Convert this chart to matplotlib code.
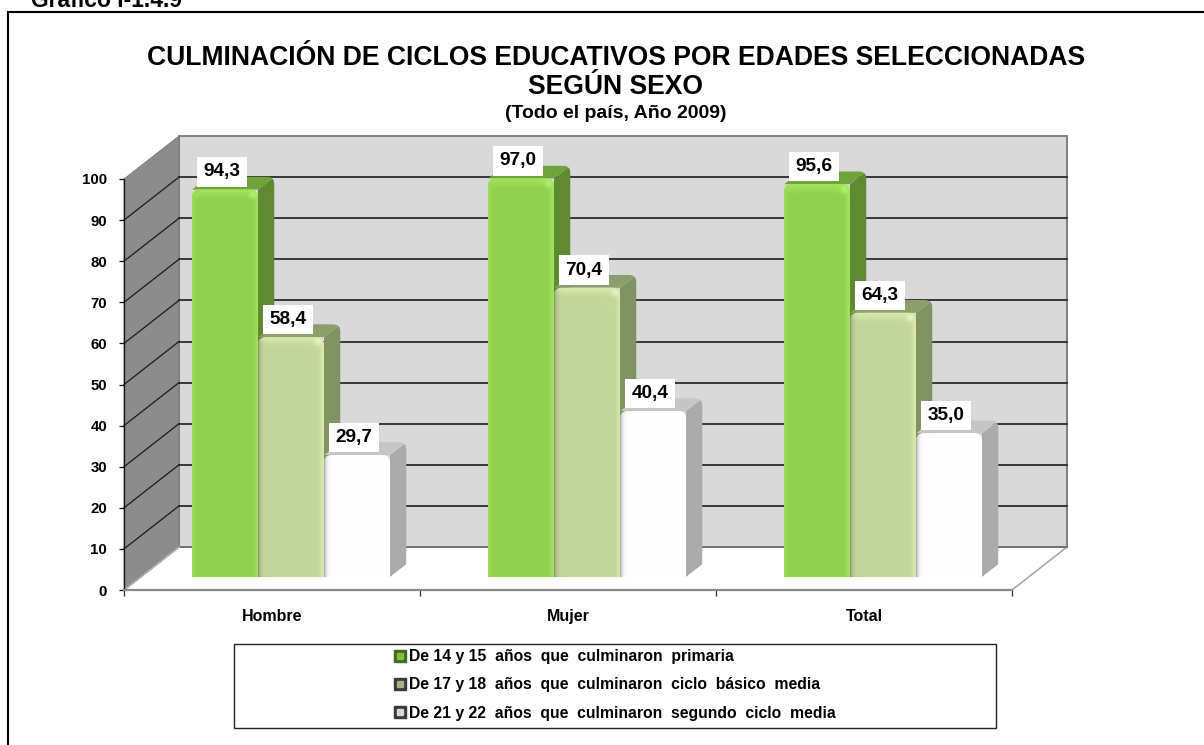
import numpy as np
import matplotlib
matplotlib.use("Agg")
import matplotlib.pyplot as plt
from matplotlib.path import Path
from matplotlib.patches import PathPatch, Polygon, Rectangle
from matplotlib.lines import Line2D
from matplotlib.legend_handler import HandlerTuple
from matplotlib.colors import to_rgb

plt.rcParams['font.family'] = ['Liberation Sans', 'DejaVu Sans']
plt.rcParams['font.weight'] = 'bold'

categories = ['Hombre', 'Mujer', 'Total']
primaria = [94.3, 97.0, 95.6]
basico = [58.4, 70.4, 64.3]
segundo = [29.7, 40.4, 35.0]
series_names = ['De 14 y 15  años  que  culminaron  primaria',
                'De 17 y 18  años  que  culminaron  ciclo  básico  media',
                'De 21 y 22  años  que  culminaron  segundo  ciclo  media']
y_ticks = list(range(0, 101, 10))
title_lines = ['CULMINACIÓN DE CICLOS EDUCATIVOS POR EDADES SELECCIONADAS', 'SEGÚN SEXO']
subtitle = '(Todo el país, Año 2009)'
heading = 'Gráfico I-1.4.9'

W, H = 1204, 745
fig = plt.figure(figsize=(W / 100, H / 100), dpi=100, facecolor='white')


def fx(x):
    return x / W


def fy(y):
    return 1 - y / H


# plot box in pixels
L, R, B, T = 124, 1012, 590, 179
ax = fig.add_axes([fx(L), fy(B), (R - L) / W, (B - T) / H])
ax.set_xlim(0, len(categories))
ax.set_ylim(0, 100)
ax.patch.set_visible(False)

SX = (R - L) / len(categories)   # px per category
SY = (B - T) / 100               # px per value unit
DX = 55 / SX                     # depth in x
DY = 43 / SY                     # depth in y
D0, D1 = 0.30, 0.60              # depth span of the bars
BW = 66 / SX                     # bar width
GAP = 0.174


def rounded(pts, r=5):
    """closed path through pts (data units), corners rounded by r pixels"""
    verts, codes = [], []
    n = len(pts)
    for i in range(n):
        p = np.array(pts[i][:2], float)
        rad = pts[i][2] if len(pts[i]) > 2 else r
        a = np.array(pts[i - 1][:2], float)
        b = np.array(pts[(i + 1) % n][:2], float)
        scale = np.array([SX, SY])

        def along(q):
            v = (q - p) * scale
            ln = np.hypot(*v) or 1
            return p + v / ln * min(rad, ln / 2) / scale
        p1, p2 = along(a), along(b)
        verts.append(p1)
        codes.append(Path.MOVETO if i == 0 else Path.LINETO)
        verts += [p, p2]
        codes += [Path.CURVE3, Path.CURVE3]
    verts.append(verts[0])
    codes.append(Path.CLOSEPOLY)
    return Path(verts, codes)


# walls
ymax = y_ticks[-1]
xmax = len(categories)
ax.add_patch(Polygon([(DX, 0 + DY), (xmax + DX, DY), (xmax + DX, ymax + DY), (DX, ymax + DY)],
                     closed=True, fc='#D9D9D9', ec='#808080', lw=1.4, clip_on=False, zorder=1))
ax.add_patch(Polygon([(0, 0), (DX, DY), (DX, ymax + DY), (0, ymax)],
                     closed=True, fc='#8C8C8C', ec='#777777', lw=0.6, clip_on=False, zorder=1.1))
for v in y_ticks:
    if 0 < v < ymax:
        ax.plot([DX, xmax + DX], [v + DY, v + DY], color='#2B2B2B', lw=1.3, clip_on=False, zorder=1.2)
    if v < ymax:
        ax.plot([0, DX], [v, v + DY], color='#1A1A1A', lw=0.9, clip_on=False, zorder=1.2)
ax.plot([xmax, xmax + DX], [0, DY], color='#A8A8A8', lw=1.2, clip_on=False, zorder=1.2)
ax.plot([0, DX], [0, DY], color='#B5B5B5', lw=1.2, clip_on=False, zorder=1.3)
ax.plot([DX, xmax + DX], [DY, DY], color='#707070', lw=1.3, clip_on=False, zorder=1.2)

styles = [
    dict(face='#92D050', hi='#A2E25C', edge='#A0DC58', side='#5F8A30', top='#6EA43A', spot='#B4F070', ew=2.5),
    dict(face='#C3D69B', hi='#D8E9AA', edge='#8F9E72', side='#7F9363', top='#8B9E6B', spot='#E6F4BE', ew=2.0),
    dict(face='#FFFFFF', hi='#FFFFFF', edge='#AFAFAF', side='#ABABAB', top='#C6C6C6', spot='#FFFFFF', ew=2.0),
]


def shade(st, wpx, hpx):
    f, hi, e, sp = map(lambda c: np.array(to_rgb(c)), (st['face'], st['hi'], st['edge'], st['spot']))
    yy, xx = np.mgrid[0:hpx, 0:wpx]
    img = np.ones((hpx, wpx, 3)) * f
    t = np.maximum(np.clip(1.1 - yy / 9.0, 0, 1), np.clip(1.1 - (wpx - 1 - xx) / 5.0, 0, 1))[..., None]
    img = img * (1 - t) + hi * t
    t = np.exp(-xx / st['ew'])[..., None]
    img = img * (1 - t) + e * t
    t = np.exp(-(((wpx - 6 - xx) / 4.0) ** 2 + ((yy - 5) / 4.0) ** 2))[..., None]
    img = img * (1 - t) + sp * t
    return img


for j, (vals, st) in enumerate(zip([primaria, basico, segundo], styles)):
    z = 3 + j
    for i, v in enumerate(vals):
        x0 = i + GAP + j * BW
        x1 = x0 + BW
        off0x, off0y = D0 * DX, D0 * DY
        span_x, span_y = (D1 - D0) * DX, (D1 - D0) * DY
        fx0, fx1 = x0 + off0x, x1 + off0x
        fb, ft = off0y, v + off0y
        # outline of the visible top and side
        outline = PathPatch(rounded([(fx0, ft, 1), (fx0 + span_x, ft + span_y, 7), (fx1 + span_x, ft + span_y, 8),
                                     (fx1 + span_x, fb + span_y, 2), (fx1, fb, 1), (fx0, fb, 1)]),
                            transform=ax.transData, fc='none', ec='none')
        ax.add_patch(outline)
        outline.set_visible(False)
        side = Polygon([(fx1, fb), (fx1 + span_x, fb + span_y), (fx1 + span_x, ft + span_y), (fx1, ft)],
                       closed=True, fc=st['side'], ec='none', zorder=z)
        top = Polygon([(fx0, ft), (fx0 + span_x, ft + span_y), (fx1 + span_x, ft + span_y), (fx1, ft)],
                      closed=True, fc=st['top'], ec='none', zorder=z)
        for p in (side, top):
            ax.add_patch(p)
            p.set_clip_path(outline)
            p.set_clip_box(fig.bbox)
        # front face
        front = PathPatch(rounded([(fx0, fb, 0.1), (fx0, ft, 8), (fx1, ft, 8), (fx1, fb, 0.1)]),
                          fc=st['face'], ec='none', zorder=z + 0.1)
        ax.add_patch(front)
        front.set_clip_box(fig.bbox)
        wpx, hpx = int(round(BW * SX)), int(round(v * SY))
        im = ax.imshow(shade(st, wpx, hpx), extent=(fx0, fx1, fb, ft), origin='upper', aspect='auto',
                       interpolation='bilinear', zorder=z + 0.2)
        im.set_clip_path(front)
        im.set_clip_box(fig.bbox)
        ax.annotate(f'{v:.1f}'.replace('.', ','), xy=((fx0 + fx1) / 2, ft), xytext=(-3 * 0.72, 3.2 * 0.72 + 4.2),
                    textcoords='offset points', ha='center', va='bottom', fontsize=13.7, fontweight='bold',
                    color='black', bbox=dict(boxstyle='square,pad=0.33', fc='white', ec='none'),
                    zorder=10, annotation_clip=False)

ax.set_xlim(0, xmax)
ax.set_ylim(0, ymax)

# axes
for s in ('top', 'right'):
    ax.spines[s].set_visible(False)
ax.spines['left'].set_color('#111111')
ax.spines['left'].set_linewidth(0.9)
ax.spines['left'].set_zorder(2)
ax.spines['bottom'].set_color('#8A8A8A')
ax.spines['bottom'].set_linewidth(1.6)
ax.spines['bottom'].set_zorder(2)
ax.set_yticks(y_ticks)
ax.tick_params(axis='y', length=3.6, width=0.9, pad=8.5, labelsize=10.8, color='#111111')
ax.set_xticks(range(xmax + 1))
ax.set_xticklabels([])
ax.set_xticks([i + 0.5 for i in range(xmax)], minor=True)
ax.set_xticklabels(categories, minor=True, fontsize=11.5)
ax.tick_params(axis='x', which='major', length=4, width=0.9, color='#333333')
ax.tick_params(axis='x', which='minor', length=0, pad=14)

# texts
fig.text(fx(616), fy(58), title_lines[0], ha='center', va='center', fontsize=19.1, fontweight='bold')
fig.text(fx(616), fy(87), title_lines[1], ha='center', va='center', fontsize=19.1, fontweight='bold')
fig.text(fx(616), fy(113), subtitle, ha='center', va='center', fontsize=14, fontweight='bold')
fig.text(fx(31), fy(7), heading, ha='left', va='baseline', fontsize=16.5, fontweight='bold')

# frame
fig.add_artist(Line2D([fx(7.5), 1], [fy(12), fy(12)], color='black', lw=1.5))
fig.add_artist(Line2D([fx(7.5), fx(7.5)], [fy(12), 0], color='black', lw=1.5))

# legend
fig.add_artist(Rectangle((fx(233.5), fy(728)), (996 - 233.5) / W, (728 - 643.5) / H, fc='white', ec='#222222',
                         lw=1.0, transform=fig.transFigure))
colors = [('#3F6B22', '#7CC040'), ('#3A3A3A', '#A4B482'), ('#3A3A3A', '#D8D8D8')]
handles = [(Line2D([], [], marker='s', ls='', ms=8.0, mfc=o, mec=o),
            Line2D([], [], marker='s', ls='', ms=4.8, mfc=c, mec=c)) for o, c in colors]
leg = fig.legend(handles, series_names, loc='center left', bbox_to_anchor=(fx(385.5), fy(685)), frameon=False,
                 fontsize=11.3, labelspacing=0.84, handlelength=0.9, handletextpad=0.1, borderpad=0,
                 handler_map={tuple: HandlerTuple(ndivide=1, pad=0)})
leg.set_zorder(5)

fig.savefig('out.png', dpi=100, facecolor='white')
